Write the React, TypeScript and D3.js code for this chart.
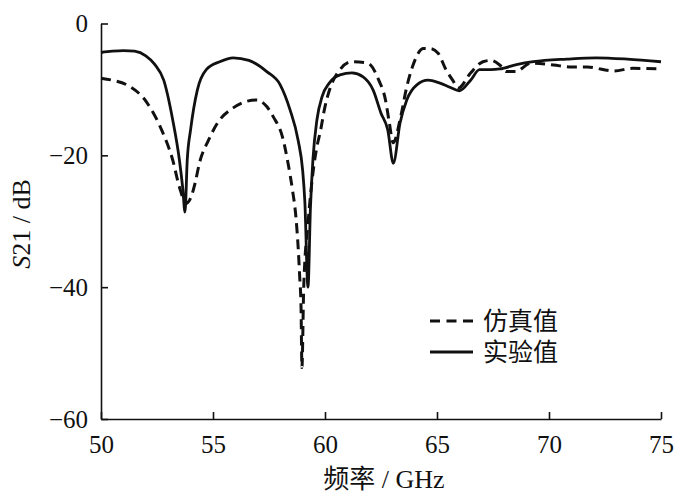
import * as d3 from "d3";
import { useEffect, useRef } from "react";

// simulated S21 (dashed)
const simFreq = [
  50.0, 50.5, 51.15, 52.05, 52.7, 53.2, 53.5, 53.8, 54.0, 54.2, 54.4, 54.8, 55.2,
  55.9, 56.5, 56.95, 57.4, 57.7, 58.1, 58.35, 58.55, 58.7, 58.8, 58.87, 58.93,
  58.97, 59.05, 59.25, 59.45, 59.65, 59.78, 60.0, 60.2, 60.67, 61.2, 61.9, 62.4,
  62.7, 62.85, 63.05, 63.35, 63.65, 63.9, 64.4, 64.7, 65.05, 65.4, 65.7, 65.95,
  66.5, 67.05, 67.4, 67.8, 68.1, 68.5, 69.2, 70.2, 71.0, 71.7, 72.9, 73.75, 75.0,
];
const simDb = [
  -8.3, -8.6, -9.3, -12.0, -16.1, -20.7, -24.8, -27.3, -26.5, -24.2, -21.1, -17.7,
  -15.1, -12.8, -11.8, -11.6, -12.6, -14.2, -17.2, -21.2, -25.3, -29.3, -33.9,
  -38.4, -43.0, -52.2, -40.0, -30.0, -23.0, -18.5, -16.6, -12.6, -10.1, -7.0,
  -5.8, -6.0, -8.6, -11.6, -14.6, -18.1, -14.6, -9.6, -6.6, -3.8, -3.8, -4.5,
  -7.0, -8.6, -9.8, -7.5, -5.8, -5.6, -6.3, -7.3, -7.3, -6.0, -6.3, -6.6, -6.6,
  -7.2, -6.8, -6.9,
];

// measured S21 (solid)
const expFreq = [
  50.0, 50.5, 51.0, 51.5, 52.0, 52.4, 52.8, 53.2, 53.5, 53.65, 53.75, 53.85, 54.0,
  54.3, 54.7, 55.3, 55.9, 56.6, 57.4, 58.0, 58.44, 58.8, 59.0, 59.1, 59.24, 59.35,
  59.46, 59.64, 59.87, 60.2, 60.67, 61.2, 61.7, 62.15, 62.5, 62.8, 63.05, 63.35,
  63.65, 64.1, 64.6, 65.1, 65.6, 66.0, 66.5, 66.9, 67.4, 67.8, 68.6, 69.3, 70.8,
  72.1, 73.5, 75.0,
];
const expDb = [
  -4.4, -4.2, -4.1, -4.2, -4.9, -6.2, -8.6, -14.6, -20.7, -25.0, -28.6, -20.7,
  -16.1, -10.1, -7.0, -5.8, -5.2, -5.6, -7.3, -9.3, -13.1, -17.7, -22.2, -27.0,
  -40.0, -28.0, -20.7, -14.6, -11.1, -9.0, -7.8, -7.5, -8.1, -10.1, -13.6,
  -16.1, -21.2, -15.1, -11.6, -9.3, -8.6, -9.0, -9.7, -10.2, -8.6, -7.0, -7.0,
  -6.9, -6.2, -5.8, -5.4, -5.2, -5.4, -5.8,
];

const xTicks = [50, 55, 60, 65, 70, 75];
const yTicks = [0, -20, -40, -60];
const legendLabels = ["仿真值", "实验值"];

const W = 700;
const H = 499;
const serif = "'Liberation Serif', 'DejaVu Serif', 'Noto Sans CJK SC', serif";

const drawChart = (target: any) => {
  const svg = d3.select(target);
  svg.selectAll("*").remove();

  const x = d3.scaleLinear().domain([50, 75]).range([101, 661]);
  const y = d3.scaleLinear().domain([-60, 0]).range([419, 23.5]);

  const line = d3
    .line<[number, number]>()
    .x((d) => x(d[0]))
    .y((d) => y(d[1]))
    .curve(d3.curveMonotoneX);

  const sim = simFreq.map((f, i) => [f, simDb[i]] as [number, number]);
  const exp = expFreq.map((f, i) => [f, expDb[i]] as [number, number]);

  svg
    .append("path")
    .attr("d", line(sim))
    .attr("fill", "none")
    .attr("stroke", "#111")
    .attr("stroke-width", 3)
    .attr("stroke-dasharray", "10,6");

  svg
    .append("path")
    .attr("d", line(exp))
    .attr("fill", "none")
    .attr("stroke", "#111")
    .attr("stroke-width", 2.8);

  const xAxis = svg
    .append("g")
    .attr("transform", `translate(0,${y(-60)})`)
    .call(
      d3
        .axisBottom(x)
        .tickValues(xTicks)
        .tickSizeInner(-7)
        .tickSizeOuter(0)
        .tickPadding(16)
        .tickFormat(d3.format("d"))
    );

  const yAxis = svg
    .append("g")
    .attr("transform", `translate(${x(50)},0)`)
    .call(
      d3
        .axisLeft(y)
        .tickValues(yTicks)
        .tickSizeInner(-7)
        .tickSizeOuter(0)
        .tickPadding(13)
        .tickFormat(d3.format("d"))
    );

  [xAxis, yAxis].forEach((g) => {
    g.attr("font-family", null).attr("font-size", null);
    g.select(".domain").attr("stroke", "#111").attr("stroke-width", 1.6);
    g.selectAll(".tick line").attr("stroke", "#111").attr("stroke-width", 1.6);
    g.selectAll(".tick text")
      .attr("fill", "#111")
      .style("font-family", serif)
      .style("font-size", "25px");
  });

  // axis titles
  const yt = svg
    .append("text")
    .attr("transform", "translate(30,224) rotate(-90)")
    .attr("text-anchor", "middle")
    .attr("fill", "#111")
    .style("font-family", serif)
    .style("font-size", "26px");
  yt.append("tspan").attr("font-style", "italic").text("S");
  yt.append("tspan").text("21 / dB");

  svg
    .append("text")
    .attr("x", 384)
    .attr("y", 488)
    .attr("text-anchor", "middle")
    .attr("fill", "#111")
    .style("font-family", serif)
    .style("font-size", "26px")
    .text("频率 / GHz");

  // legend
  const legend = svg.append("g");
  legendLabels.forEach((label, i) => {
    const ly = 321 + i * 31;
    legend
      .append("line")
      .attr("x1", 430)
      .attr("x2", 473)
      .attr("y1", ly)
      .attr("y2", ly)
      .attr("stroke", "#111")
      .attr("stroke-width", 3)
      .attr("stroke-dasharray", i === 0 ? "10,6.5" : null);
    legend
      .append("text")
      .attr("x", 483)
      .attr("y", ly)
      .attr("dominant-baseline", "central")
      .attr("fill", "#111")
      .style("font-family", serif)
      .style("font-size", "25px")
      .text(label);
  });
};

const App = () => {
  const ref = useRef<SVGSVGElement>(null);
  useEffect(() => {
    if (ref.current) drawChart(ref.current);
  }, []);
  return (
    <svg
      ref={ref}
      width={W}
      height={H}
      style={{ position: "absolute", left: 0, top: 0, background: "#fff" }}
    />
  );
};

export default App;
